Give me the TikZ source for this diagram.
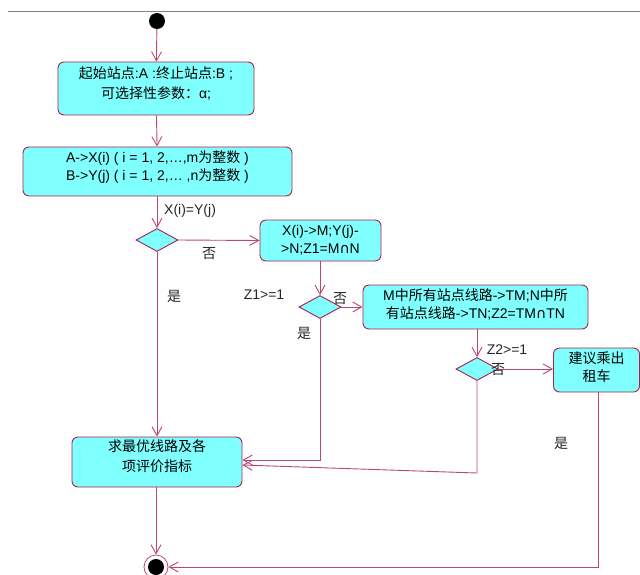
\documentclass[tikz,border=0pt]{standalone}
\usepackage{fontspec}
\setmainfont{Liberation Sans}
\newfontfamily\cjk{Noto Sans CJK SC}
\newfontfamily\djvfont{DejaVu Sans}
\newcommand{\zh}[1]{{\cjk #1}}
\newcommand{\capn}{{\djvfont ∩}}
\newcommand{\liftup}[2]{\raisebox{#1}[\height][\depth]{\begin{tabular}{@{}c@{}}#2\end{tabular}}}
\usetikzlibrary{shapes.geometric,arrows.meta}
\definecolor{boxfill}{HTML}{80FFFF}
\definecolor{boxline}{HTML}{A8204F}
\definecolor{conn}{HTML}{BC4672}
\tikzset{
  every node/.style={font=\fontsize{14}{18}\selectfont, inner sep=0pt},
  actbox/.style={draw=boxline, fill=boxfill, line width=0.9pt, rounded corners=6pt, align=center},
  decis/.style={draw=boxline, fill=boxfill, line width=0.9pt, shape=diamond, minimum width=42pt, minimum height=23pt},
  flow/.style={draw=conn, line width=0.9pt, -{Straight Barb[length=9pt,width=10pt,line width=0.9pt]}},
  lab/.style={text=black!85}
}
\begin{document}
\begin{tikzpicture}[x=1pt,y=-1pt]
\useasboundingbox (0,0) rectangle (640,574);
\draw[gray, line width=0.8pt] (8,11) -- (640,11);
% start
\node[circle, fill=black, minimum size=16pt] (start) at (157,21) {};
% boxes
\node[actbox, minimum width=196pt, minimum height=53pt] (b1) at (156,88.5)
  {\liftup{4pt}{\zh{起始站点}:A :\zh{终止站点}:B ;\\[2pt]\zh{可选择性参数：}α;}};
\node[actbox, minimum width=269pt, minimum height=49pt] (b2) at (157.5,171.5)
  {\liftup{3.5pt}{A->X(i) ( i = 1, 2,…,m\zh{为整数} )\\B->Y(j) ( i = 1, 2,… ,n\zh{为整数} )}};
\node[decis] (d1) at (157,240) {};
\node[actbox, minimum width=121pt, minimum height=41pt] (b3) at (320.5,240.5)
  {X(i)->M;Y(j)-\\>N;Z1=M\capn N};
\node[decis] (d2) at (320,307) {};
\node[actbox, minimum width=225pt, minimum height=44pt] (b4) at (475.5,307)
  {\liftup{1pt}{M\zh{中所有站点线路}->TM;N\zh{中所}\\\zh{有站点线路}->TN;Z2=TM\capn TN}};
\node[decis] (d3) at (477,369) {};
\node[actbox, minimum width=86pt, minimum height=44pt] (b5) at (596.5,370)
  {\liftup{1.5pt}{\zh{建议乘出}\\\zh{租车}}};
\node[actbox, minimum width=170pt, minimum height=50pt] (b6) at (157,462)
  {\liftup{4pt}{\zh{求最优线路及各}\\[2pt]\zh{项评价指标}}};
% end
\node[circle, draw=conn, line width=0.8pt, minimum size=24pt] (end) at (156,567) {};
\node[circle, fill=black, minimum size=16pt] (endin) at (156,567) {};
% corner coordinates
\coordinate (c2) at (320,460);
\coordinate (c3) at (477,473);
\coordinate (c5) at (598,567);
% connectors
\draw[flow] (start) -- (b1);
\draw[flow] (b1) -- (b2);
\draw[flow] (b2.south -| d1) -- (d1.north);
\draw[flow] (d1.east) -- (b3.west);
\draw[flow] (d1.south) -- (b6.north);
\draw[flow] (b3.south -| d2) -- (d2.north);
\draw[flow] (d2.east) -- (b4.west |- d2);
\draw[flow] (d2.south) -- (c2) -- ([yshift=2pt]b6.east);
\draw[flow] (b4.south -| d3) -- (d3.north);
\draw[flow] (d3.east) -- (b5.west |- d3);
\draw[flow] (d3.south) -- (c3) -- ([yshift=-3pt]b6.east);
\draw[flow] (b5.south -| c5) -- (c5) -- (end.east);
\draw[flow] (b6.south -| end) -- (end.north);
% labels
\node[lab, anchor=west] (l1) at (164,211) {X(i)=Y(j)};
\node[lab] (l2) at (209,254) {\zh{否}};
\node[lab] (l3) at (174,296) {\zh{是}};
\node[lab] (l4) at (264,295) {Z1>=1};
\node[lab] (l5) at (340,299) {\zh{否}};
\node[lab] (l6) at (304,333) {\zh{是}};
\node[lab] (l7) at (507,350) {Z2>=1};
\node[lab] (l8) at (498,370) {\zh{否}};
\node[lab] (l9) at (561,443) {\zh{是}};
\end{tikzpicture}
\end{document}
